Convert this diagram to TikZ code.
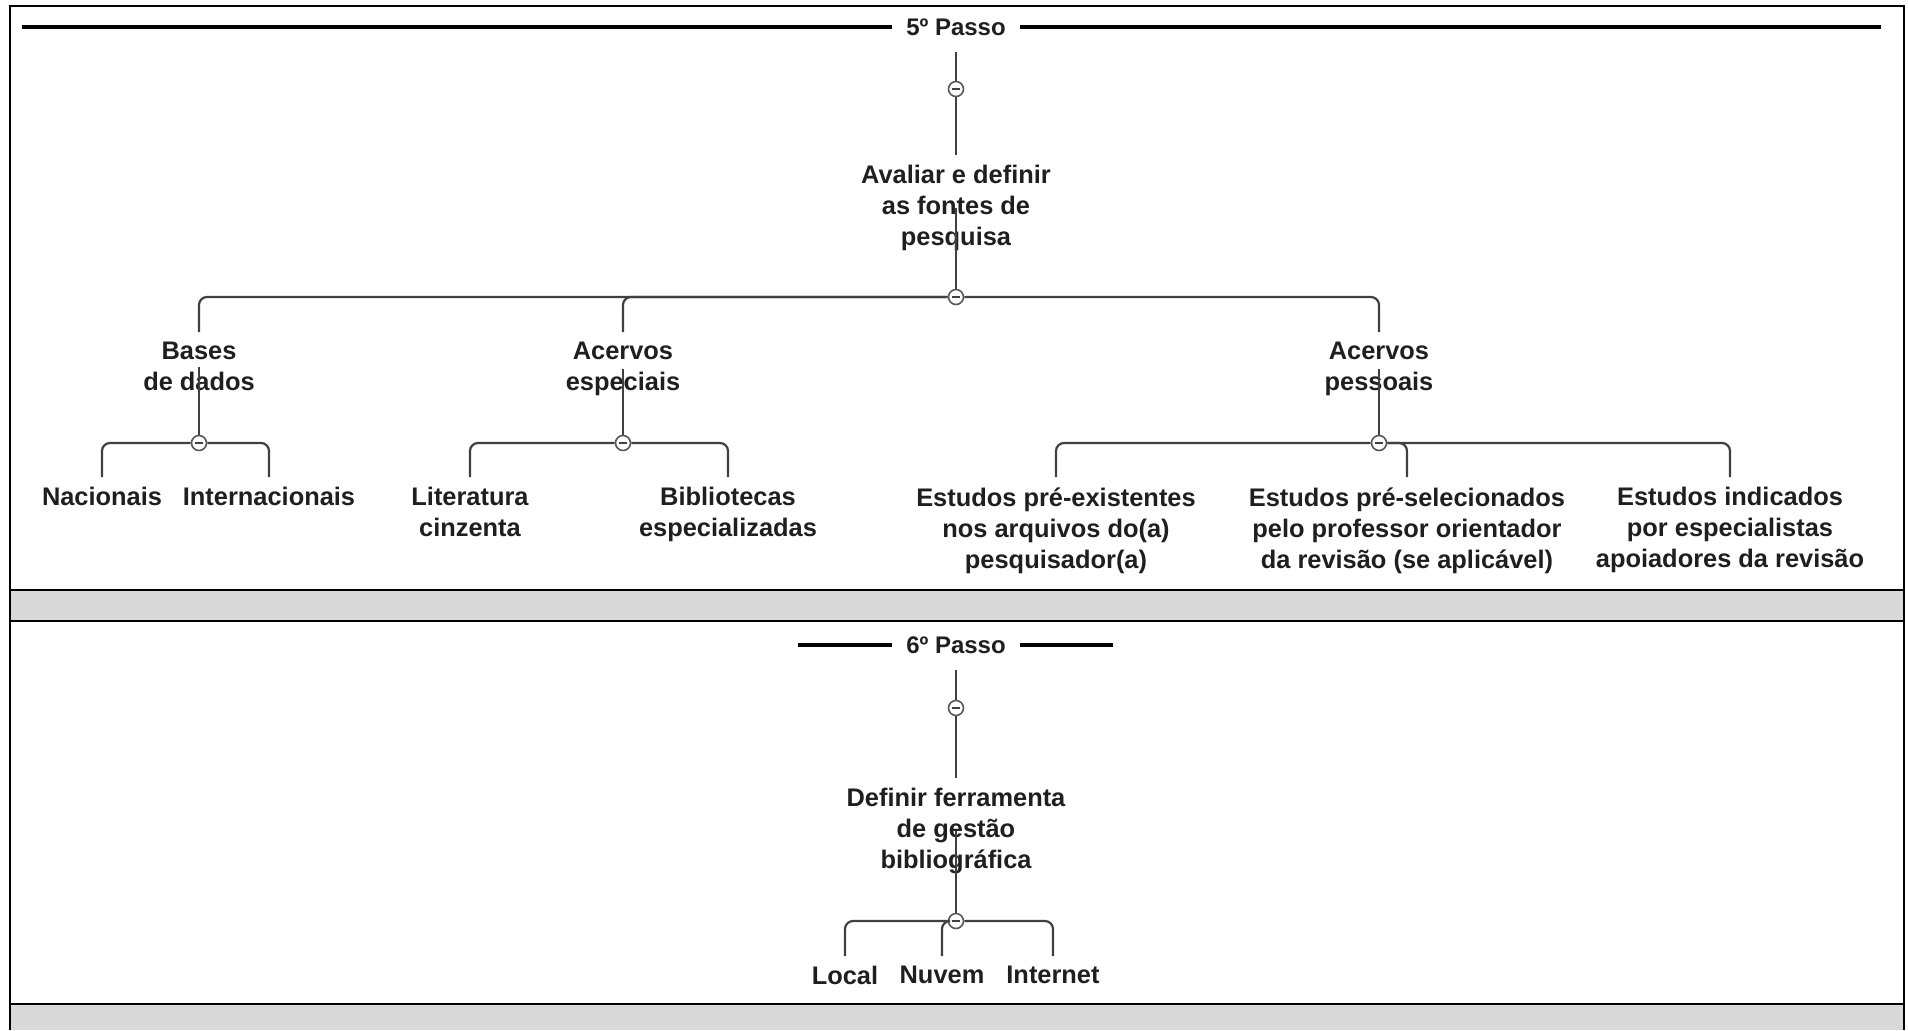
\documentclass[tikz,border=0pt]{standalone}
\usepackage{fontspec}
\setmainfont{Liberation Sans}
\begin{document}
\begin{tikzpicture}[x=0.5pt,y=-0.5pt,
  topic/.style={anchor=north,align=center,inner sep=5pt,text=black!88,font=\bfseries\fontsize{12.7}{15.5}\selectfont},
  passo/.style={inner xsep=7pt,inner ysep=8pt,text=black!88,font=\bfseries\fontsize{12}{14}\selectfont},
  fold/.style={circle,draw=black!65,line width=0.8pt,fill=white,minimum size=7.5pt,inner sep=0pt,
    path picture={\draw[black!75,line width=0.7pt] ([xshift=-2.2pt]path picture bounding box.center) -- ([xshift=2.2pt]path picture bounding box.center);}},
  link/.style={draw=black!75,line width=1.1pt,rounded corners=4pt},
  passoline/.style={black,line width=1.6pt},
  tableline/.style={black,line width=1.3pt}]
\useasboundingbox (0,0) rectangle (1908,1030);

\fill[gray!30] (10,590) rectangle (1904,621);
\fill[gray!30] (10,1004) rectangle (1904,1030);
\draw[tableline] (10,1030) -- (10,6) -- (1904,6) -- (1904,1030);
\draw[tableline] (10,590) -- (1904,590);
\draw[tableline] (10,621) -- (1904,621);
\draw[tableline] (10,1004) -- (1904,1004);

\node[passo] (passo5) at (956,27) {5º Passo};
\coordinate (p5l) at (22,27);
\coordinate (p5r) at (1881,27);
\draw[passoline] (p5l) -- (passo5.west);
\draw[passoline] (passo5.east) -- (p5r);

\node[fold] (f5a) at (956,89) {};
\node[topic] (avaliar) at (956,155) {Avaliar e definir\\as fontes de\\pesquisa};
\node[fold] (f5b) at (956,297) {};
\draw[link] (passo5.south) -- (f5a);
\draw[link] (f5a) -- (avaliar.north);
\draw[link] (avaliar.center) -- (f5b);

\node[topic] (bases) at (199,332) {Bases\\de dados};
\node[topic] (especiais) at (623,332) {Acervos\\especiais};
\node[topic] (pessoais) at (1379,332) {Acervos\\pessoais};
\foreach \n in {bases,especiais,pessoais}
  \draw[link] (f5b) -| (\n.north);

\node[fold] (fbases) at (199,443) {};
\node[fold] (fespeciais) at (623,443) {};
\node[fold] (fpessoais) at (1379,443) {};
\foreach \n in {bases,especiais,pessoais}
  \draw[link] (\n.center) -- (f\n);

\node[topic] (nacionais) at (102,477) {Nacionais};
\node[topic] (internacionais) at (269,477) {Internacionais};
\node[topic] (literatura) at (470,477) {Literatura\\cinzenta};
\node[topic] (bibliotecas) at (728,477) {Bibliotecas\\especializadas};
\node[topic] (preexist) at (1056,477) {Estudos pré-existentes\\nos arquivos do(a)\\pesquisador(a)};
\node[topic] (presel) at (1407,477) {Estudos pré-selecionados\\pelo professor orientador\\da revisão (se aplicável)};
\node[topic] (indicados) at (1730,477) {Estudos indicados\\por especialistas\\apoiadores da revisão};
\foreach \n in {nacionais,internacionais}
  \draw[link] (fbases) -| (\n.north);
\foreach \n in {literatura,bibliotecas}
  \draw[link] (fespeciais) -| (\n.north);
\foreach \n in {preexist,presel,indicados}
  \draw[link] (fpessoais) -| (\n.north);

\node[passo] (passo6) at (956,645) {6º Passo};
\coordinate (p6l) at (798,645);
\coordinate (p6r) at (1113,645);
\draw[passoline] (p6l) -- (passo6.west);
\draw[passoline] (passo6.east) -- (p6r);

\node[fold] (f6a) at (956,708) {};
\node[topic] (definir) at (956,778) {Definir ferramenta\\de gestão\\bibliográfica};
\node[fold] (f6b) at (956,921) {};
\draw[link] (passo6.south) -- (f6a);
\draw[link] (f6a) -- (definir.north);
\draw[link] (definir.center) -- (f6b);

\node[topic] (local) at (845,956) {Local};
\node[topic] (nuvem) at (942,956) {Nuvem};
\node[topic] (internet) at (1053,956) {Internet};
\foreach \n in {local,nuvem,internet}
  \draw[link] (f6b) -| (\n.north);
\end{tikzpicture}
\end{document}
